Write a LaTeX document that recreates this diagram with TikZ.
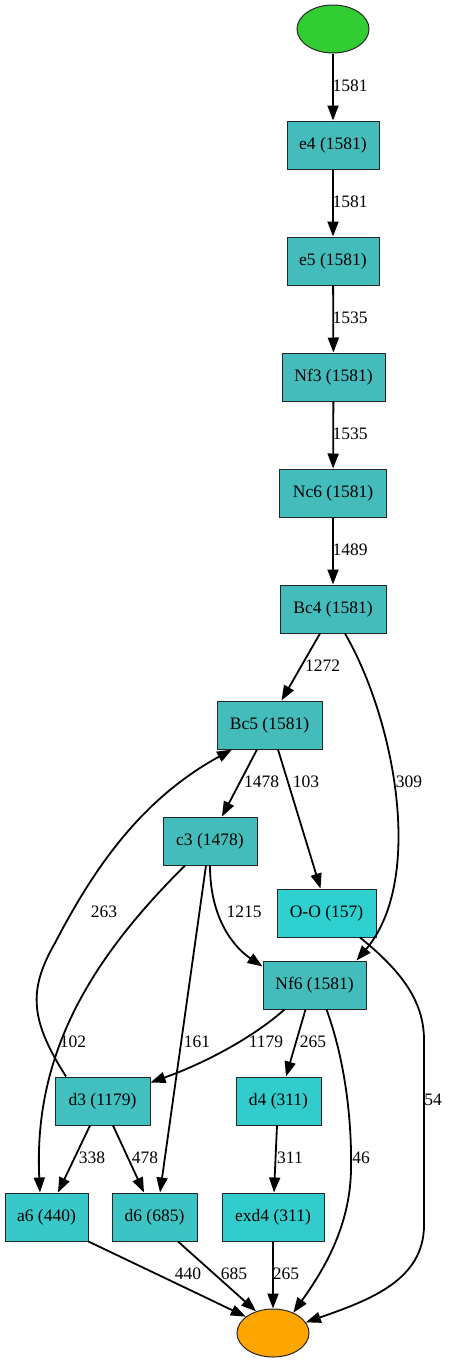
\documentclass[tikz,border=0pt]{standalone}
\usepackage{fontspec}
\setmainfont{Liberation Serif}
\usetikzlibrary{arrows.meta,shapes.geometric}
\definecolor{tealA}{RGB}{69,188,188}
\definecolor{tealB}{RGB}{66,191,191}
\definecolor{tealC}{RGB}{60,196,196}
\definecolor{tealD}{RGB}{56,200,200}
\definecolor{tealE}{RGB}{50,204,204}
\definecolor{tealF}{RGB}{46,208,208}
\definecolor{startgreen}{RGB}{50,205,50}
\definecolor{endorange}{RGB}{255,165,0}
\begin{document}
\begin{tikzpicture}[x=1pt,y=-1pt,
  txt/.style={font=\fontsize{17.5}{20}\selectfont},
  box/.style={txt, draw=black!85, line width=1pt, rectangle, minimum height=48pt, inner sep=0pt},
  oval/.style={draw=black!85, line width=1pt, ellipse, minimum width=72pt, minimum height=48pt, inner sep=0pt},
  edge/.style={draw, line width=1.8pt, -{Triangle[length=15pt,width=11pt]}},
  lbl/.style={txt, inner sep=0pt}]
\useasboundingbox (0,0) rectangle (448,1363);

\node[oval, fill=startgreen] (start) at (333,29) {};
\node[box, fill=tealA, minimum width=92pt] (e4) at (333,145) {e4 (1581)};
\node[box, fill=tealA, minimum width=92pt] (e5) at (333,261) {e5 (1581)};
\node[box, fill=tealA, minimum width=103pt] (nf3) at (333.5,377) {Nf3 (1581)};
\node[box, fill=tealA, minimum width=107pt] (nc6) at (333,493) {Nc6 (1581)};
\node[box, fill=tealA, minimum width=106pt] (bc4) at (333,609) {Bc4 (1581)};
\node[box, fill=tealA, minimum width=105pt] (bc5) at (269.5,725) {Bc5 (1581)};
\node[box, fill=tealA, minimum width=94pt] (c3) at (210,841) {c3 (1478)};
\node[box, fill=tealF, minimum width=99pt] (oo) at (326.5,913) {O-O (157)};
\node[box, fill=tealA, minimum width=103pt] (nf6) at (314.5,985) {Nf6 (1581)};
\node[box, fill=tealB, minimum width=95pt] (d3) at (102.5,1101) {d3 (1179)};
\node[box, fill=tealE, minimum width=85pt] (d4) at (278.5,1101) {d4 (311)};
\node[box, fill=tealD, minimum width=83pt] (a6) at (46.5,1217) {a6 (440)};
\node[box, fill=tealC, minimum width=85pt] (d6) at (154.5,1217) {d6 (685)};
\node[box, fill=tealE, minimum width=102pt] (exd4) at (273,1217) {exd4 (311)};
\node[oval, fill=endorange] (end) at (273,1333) {};

\draw[edge] (start) -- (e4);
\draw[edge] (e4) -- (e5);
\draw[edge] (e5) -- (nf3);
\draw[edge] (nf3) -- (nc6);
\draw[edge] (nc6) -- (bc4);
\draw[edge] ([xshift=-13pt]bc4.south) -- ([xshift=12pt]bc5.north);
\draw[edge] ([xshift=12pt]bc4.south) .. controls (395,720) and (425,880) .. ([xshift=42pt]nf6.north);
\draw[edge] ([xshift=-12.5pt]bc5.south) -- ([xshift=12pt]c3.north);
\draw[edge] ([xshift=8.5pt]bc5.south) -- ([xshift=-6pt]oo.north);
\draw[edge] (c3.south) .. controls (210,920) and (235,948) .. ([yshift=-6pt]nf6.north west);
\draw[edge] ([xshift=-25pt]c3.south) .. controls (95,955) and (33,1050) .. ([xshift=-6.5pt]a6.north);
\draw[edge] ([xshift=-4pt]c3.south) -- ([xshift=5.5pt]d6.north);
\draw[edge] ([xshift=-36.5pt]d3.north) .. controls (30,1020) and (28,990) .. (55,943)
  .. controls (93,870) and (140,800) .. ([xshift=-37.5pt]bc5.south);
\draw[edge] ([xshift=-30pt]nf6.south) .. controls (250,1040) and (200,1065) .. ([yshift=-6pt]d3.north east);
\draw[edge] ([xshift=-9pt]nf6.south) -- ([xshift=7.5pt]d4.north);
\draw[edge] ([xshift=12pt]nf6.south) .. controls (345,1060) and (352,1120) .. (351,1170)
  .. controls (350,1230) and (320,1275) .. (end.45);
\draw[edge] ([xshift=33.5pt]oo.south) .. controls (400,970) and (424,1000) .. (424,1040)
  -- (424,1225) .. controls (424,1280) and (370,1300) .. (end.18);
\draw[edge] ([xshift=-12.5pt]d3.south) -- ([xshift=11.5pt]a6.north);
\draw[edge] ([xshift=10.5pt]d3.south) -- ([xshift=-10.5pt]d6.north);
\draw[edge] ([xshift=-1.5pt]d4.south) -- ([xshift=1pt]exd4.north);
\draw[edge] (a6.south east) -- (end.149);
\draw[edge] ([xshift=23.5pt]d6.south) -- (end.128);
\draw[edge] (exd4) -- (end);

\node[lbl] (l1) at (350,86) {1581};
\node[lbl] (l2) at (350,202) {1581};
\node[lbl] (l3) at (350,318) {1535};
\node[lbl] (l4) at (350,434) {1535};
\node[lbl] (l5) at (350,550) {1489};
\node[lbl] (l6) at (322.5,666) {1272};
\node[lbl] (l7) at (261.5,782) {1478};
\node[lbl] (l8) at (306,782) {103};
\node[lbl] (l9) at (409,782) {309};
\node[lbl] (l10) at (104,912) {263};
\node[lbl] (l11) at (244,912) {1215};
\node[lbl] (l12) at (73,1042) {102};
\node[lbl] (l13) at (197,1042) {161};
\node[lbl] (l14) at (266,1042) {1179};
\node[lbl] (l15) at (313,1042) {265};
\node[lbl] (l16) at (433,1100) {54};
\node[lbl] (l17) at (92,1158) {338};
\node[lbl] (l18) at (145,1158) {478};
\node[lbl] (l19) at (290,1158) {311};
\node[lbl] (l20) at (361,1158) {46};
\node[lbl] (l21) at (188,1274) {440};
\node[lbl] (l22) at (234,1274) {685};
\node[lbl] (l23) at (286,1274) {265};
\end{tikzpicture}
\end{document}
